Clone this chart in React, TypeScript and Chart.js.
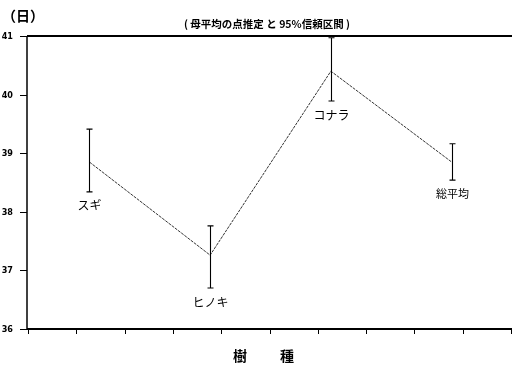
import React, { useEffect, useRef } from "react";
import { Chart, registerables } from "chart.js";

Chart.register(...registerables);

const categories = ["スギ", "ヒノキ", "コナラ", "総平均"];
const means = [38.85, 37.26, 40.4, 38.85];
const upper = [39.41, 37.76, 40.97, 39.16];
const lower = [38.34, 36.7, 39.89, 38.54];
const yTicks = [36, 37, 38, 39, 40, 41];
const xTickCount = 10;
const titleText = "( 母平均の点推定 と 95%信頼区間 )";
const yTitle = "（日）";
const xTitleChars = ["樹", "種"];

const JP = '"Noto Sans CJK JP", "Noto Sans", sans-serif';
const NUM = '"Liberation Sans Narrow", "DejaVu Sans Condensed", "Liberation Sans", sans-serif';

const overlay = {
  id: "overlay",
  afterDatasetsDraw(chart: any) {
    const ctx = chart.ctx;
    const xs = chart.scales.x;
    const ys = chart.scales.y;
    const a = chart.chartArea;
    ctx.save();
    ctx.strokeStyle = "#000";
    ctx.fillStyle = "#000";

    // axes frame
    ctx.lineWidth = 2;
    ctx.beginPath();
    ctx.moveTo(a.left - 2, a.top);
    ctx.lineTo(a.right, a.top);
    ctx.moveTo(a.left - 2, a.bottom);
    ctx.lineTo(a.right, a.bottom);
    ctx.stroke();
    ctx.lineWidth = 1.5;
    ctx.beginPath();
    ctx.moveTo(a.left - 2, a.top);
    ctx.lineTo(a.left - 2, a.bottom);
    ctx.stroke();

    // y ticks
    ctx.lineWidth = 1;
    ctx.font = "bold 9px " + NUM;
    ctx.textAlign = "right";
    ctx.textBaseline = "middle";
    yTicks.forEach((v) => {
      const y = Math.round(ys.getPixelForValue(v)) + 0.5;
      ctx.beginPath();
      ctx.moveTo(a.left - 9, y);
      ctx.lineTo(a.left - 2, y);
      ctx.stroke();
      ctx.fillText(String(v), 13, y);
    });

    // x ticks
    for (let i = 0; i <= xTickCount; i++) {
      const v = xs.min + ((xs.max - xs.min) * i) / xTickCount;
      const x = Math.round(xs.getPixelForValue(v)) - 0.5;
      ctx.beginPath();
      ctx.moveTo(x, a.bottom);
      ctx.lineTo(x, a.bottom + 5);
      ctx.stroke();
    }

    // error bars
    ctx.lineWidth = 1.1;
    categories.forEach((c, i) => {
      const x = Math.round(xs.getPixelForValue(i + 0.5)) + 0.5;
      const yu = ys.getPixelForValue(upper[i]);
      const yl = ys.getPixelForValue(lower[i]);
      ctx.beginPath();
      ctx.moveTo(x, yu);
      ctx.lineTo(x, yl);
      ctx.moveTo(x - 3, yu);
      ctx.lineTo(x + 3, yu);
      ctx.moveTo(x - 3, yl);
      ctx.lineTo(x + 3, yl);
      ctx.stroke();
      // category label
      ctx.font = (i === 3 ? "11px " : "12px ") + JP;
      ctx.textAlign = "center";
      ctx.textBaseline = "middle";
      ctx.fillText(c, x, yl + 14);
    });

    // titles
    ctx.font = "bold 14px " + JP;
    ctx.textAlign = "left";
    ctx.fillText(yTitle, 2, 16);
    ctx.font = "bold 10.5px " + JP;
    ctx.textAlign = "center";
    ctx.fillText(titleText, 267, 24);
    ctx.font = "bold 14px " + JP;
    ctx.fillText(xTitleChars[0], 240, 356);
    ctx.fillText(xTitleChars[1], 287, 356);
    ctx.restore();
  },
};

export default function App() {
  const ref = useRef<HTMLCanvasElement | null>(null);
  useEffect(() => {
    if (!ref.current) return;
    const chart = new Chart(ref.current, {
      type: "line",
      data: {
        datasets: [
          {
            data: means.map((m, i) => ({ x: i + 0.5, y: m })),
            borderColor: "#333",
            borderWidth: 1,
            borderDash: [3, 1],
            pointRadius: 0,
            tension: 0,
          },
        ],
      },
      options: {
        animation: false,
        responsive: false,
        layout: { padding: { left: 29, right: 0, top: 36, bottom: 38 } },
        plugins: { legend: { display: false }, title: { display: false }, tooltip: { enabled: false } },
        scales: {
          x: { type: "linear", min: 0, max: categories.length, display: false },
          y: { type: "linear", min: yTicks[0], max: yTicks[yTicks.length - 1], display: false },
        },
      },
      plugins: [overlay],
    });
    return () => chart.destroy();
  }, []);
  return (
    <div style={{ position: "fixed", left: 0, top: 0, width: 512, height: 367, background: "#fff" }}>
      <canvas ref={ref} width={512} height={367} style={{ display: "block" }} />
    </div>
  );
}
